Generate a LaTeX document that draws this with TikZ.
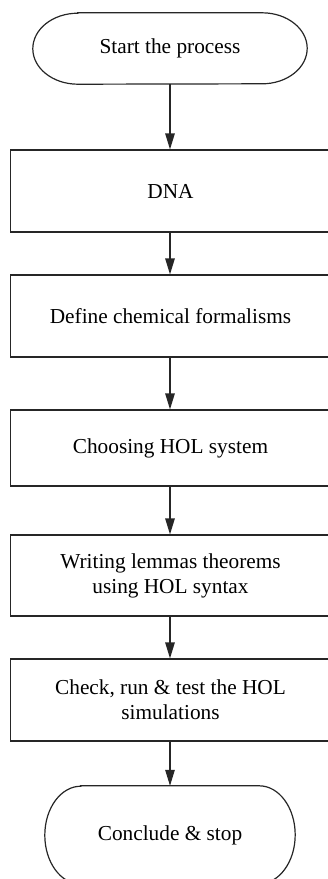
\documentclass[tikz,border=0pt]{standalone}
\usepackage{fontspec}
\setmainfont{Liberation Serif}
\usetikzlibrary{arrows.meta}
\begin{document}
\begin{tikzpicture}[x=1pt,y=1pt,
  every node/.style={font=\fontsize{21.3}{25}\selectfont, align=center, inner sep=0pt},
  line/.style={draw=black!85, line width=1.2pt},
  stepbox/.style={line, rectangle, minimum width=320pt},
  termnode/.style={rectangle, draw=none},
  flow/.style={line, -{Triangle[length=16pt,width=9.5pt]}}
]
\useasboundingbox (0,0) rectangle (328,-879);
\clip (0,0) rectangle (328,-879);

% process steps
\node[termnode, minimum width=274pt, minimum height=71pt] (start) at (170,-48.5) {Start the process};
\node[stepbox, minimum height=82pt] (dna)    at (170.5,-191) {DNA};
\node[stepbox, minimum height=82pt] (define) at (170.5,-316) {Define chemical formalisms};
\node[stepbox, minimum height=76pt] (choose) at (170.5,-448) {Choosing HOL system};
\node[stepbox, minimum height=81pt] (write)  at (170.5,-575.5) {Writing lemmas theorems\\using HOL syntax};
\node[stepbox, minimum height=82pt] (check)  at (170.5,-700) {Check, run \& test the HOL\\simulations};
\node[termnode, minimum width=250pt, minimum height=98pt] (conclude) at (170,-835) {Conclude \& stop};

% terminal outlines with elliptical ends
\draw[line] ([xshift=45pt]start.north west) -- ([xshift=-45pt]start.north east)
  arc[start angle=90, end angle=-90, x radius=45pt, y radius=35.5pt]
  -- ([xshift=45pt]start.south west)
  arc[start angle=270, end angle=90, x radius=45pt, y radius=35.5pt] -- cycle;
\draw[line] ([xshift=36pt]conclude.north west) -- ([xshift=-36pt]conclude.north east)
  arc[start angle=90, end angle=-90, x radius=36pt, y radius=49pt]
  -- ([xshift=36pt]conclude.south west)
  arc[start angle=270, end angle=90, x radius=36pt, y radius=49pt] -- cycle;

% connectors
\draw[flow] (start.south) -- (start.south |- dna.north);
\draw[flow] (dna.south -| start.south) -- (start.south |- define.north);
\draw[flow] (define.south -| start.south) -- (start.south |- choose.north);
\draw[flow] (choose.south -| start.south) -- (start.south |- write.north);
\draw[flow] (write.south -| start.south) -- (start.south |- check.north);
\draw[flow] (check.south -| start.south) -- (conclude.north);
\end{tikzpicture}
\end{document}
